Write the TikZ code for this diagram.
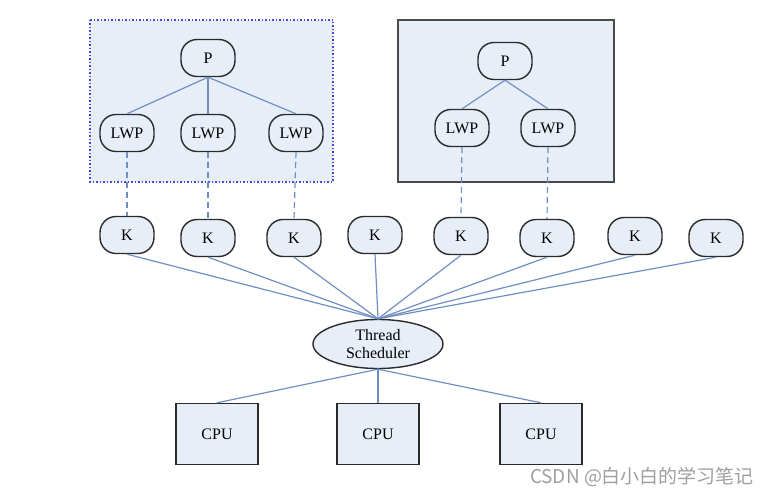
\documentclass[tikz,border=0pt]{standalone}
\usepackage{fontspec}
\setmainfont{Liberation Serif}
\newfontfamily\cjkfont{Noto Sans CJK SC}
\usetikzlibrary{shapes.geometric}

\definecolor{fondo}{HTML}{E8EEF8}
\definecolor{azulenlace}{HTML}{6F8FC4}
\definecolor{borde}{HTML}{2A2A2A}
\definecolor{punteado}{HTML}{4848D8}

\tikzset{
  redondo/.style={draw=borde, fill=fondo, line width=1.4pt, rounded corners=16pt,
    minimum width=54pt, minimum height=37pt, inner sep=0pt,
    font=\fontsize{16}{18}\selectfont},
  cpubox/.style={draw=borde, fill=fondo, line width=1.4pt,
    minimum width=82pt, minimum height=61pt, inner sep=0pt,
    font=\fontsize{16}{18}\selectfont},
  enlace/.style={draw=azulenlace, line width=1.2pt},
  enlacepunt/.style={draw=azulenlace, line width=1.2pt, dash pattern=on 6pt off 4pt},
}

\begin{document}
\begin{tikzpicture}[x=1pt,y=-1pt]

        \useasboundingbox (0,0) rectangle (774,497);

        % procesos
        \filldraw[fill=fondo, draw=punteado, line width=1.5pt, dotted] (90,20) rectangle (333,182);
        \filldraw[fill=fondo, draw=borde!85, line width=1.5pt] (398,20) rectangle (614,182);

        \node[redondo] (p1) at (208,58) {P};
        \node[redondo] (lwpa) at (127,133) {LWP};
        \node[redondo] (lwpb) at (208,133) {LWP};
        \node[redondo] (lwpc) at (296,133) {LWP};

        \node[redondo] (p2) at (505,61) {P};
        \node[redondo] (lwpd) at (462,128) {LWP};
        \node[redondo] (lwpe) at (548,128) {LWP};

        \draw[enlace] (p1.south) -- (lwpa.north);
        \draw[enlace] (p1.south) -- (lwpb.north);
        \draw[enlace] (p1.south) -- (lwpc.north);
        \draw[enlace] (p2.south) -- (lwpd.north);
        \draw[enlace] (p2.south) -- (lwpe.north);

        % hilos del kernel
        \node[redondo] (k1) at (127,235) {K};
        \node[redondo] (k2) at (208,238) {K};
        \node[redondo] (k3) at (294,238) {K};
        \node[redondo] (k4) at (375,235) {K};
        \node[redondo] (k5) at (461,236) {K};
        \node[redondo] (k6) at (547,238) {K};
        \node[redondo] (k7) at (635,236) {K};
        \node[redondo] (k8) at (716,238) {K};

        \draw[enlacepunt] (lwpa.south) -- (k1.north);
        \draw[enlacepunt] (lwpb.south) -- (k2.north);
        \draw[enlacepunt] (lwpc.south) -- (k3.north);
        \draw[enlacepunt] (lwpd.south) -- (k5.north);
        \draw[enlacepunt] (lwpe.south) -- (k6.north);

        % planificador
        \node[ellipse, draw=borde, fill=fondo, line width=1.4pt, minimum width=130pt,
              minimum height=49pt, inner sep=0pt, align=center,
              font=\fontsize{16}{18}\selectfont] (ts) at (378,344) {Thread\\Scheduler};

        \draw[enlace] (k1.south) -- (ts.north);
        \draw[enlace] (k2.south) -- (ts.north);
        \draw[enlace] (k3.south) -- (ts.north);
        \draw[enlace] (k4.south) -- (ts.north);
        \draw[enlace] (k5.south) -- (ts.north);
        \draw[enlace] (k6.south) -- (ts.north);
        \draw[enlace] (k7.south) -- (ts.north);
        \draw[enlace] (k8.south) -- (ts.north);

        % procesadores
        \node[cpubox] (cpu1) at (217,434) {CPU};
        \node[cpubox] (cpu2) at (378,434) {CPU};
        \node[cpubox] (cpu3) at (541,434) {CPU};

        \draw[enlace] (ts.south) -- (cpu1.north);
        \draw[enlace] (ts.south) -- (cpu2.north);
        \draw[enlace] (ts.south) -- (cpu3.north);

        \node[text=gray!75, font=\cjkfont\fontsize{19}{21}\selectfont] (marca) at (642,477) {CSDN @白小白的学习笔记};
    \end{tikzpicture}
\end{document}
